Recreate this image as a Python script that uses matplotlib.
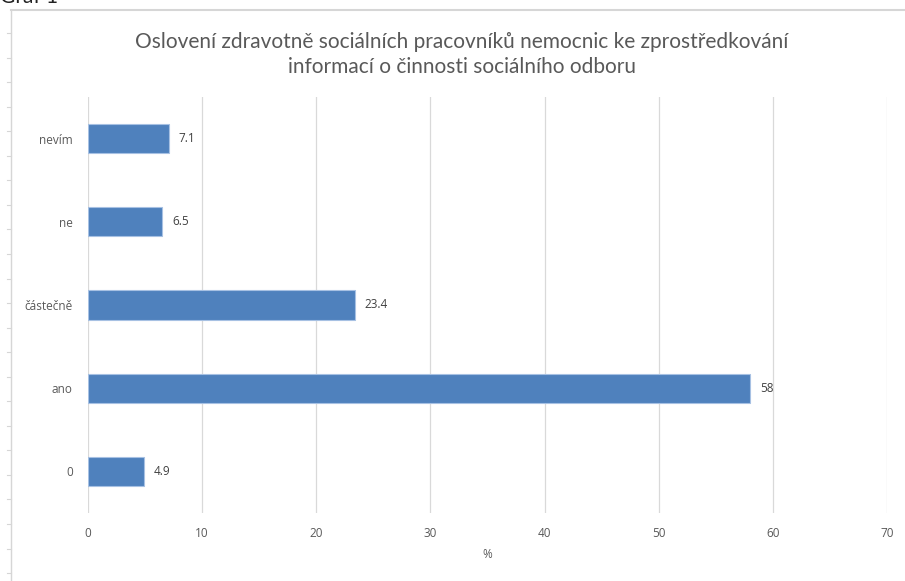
import matplotlib
matplotlib.use("Agg")
import matplotlib.pyplot as plt
from matplotlib.lines import Line2D
import numpy as np

categories = ["0", "ano", "částečně", "ne", "nevím"]
values = [4.9, 58, 23.4, 6.5, 7.1]
value_labels = ["4.9", "58", "23.4", "6.5", "7.1"]
x_ticks = [0, 10, 20, 30, 40, 50, 60, 70]
title = "Oslovení zdravotně sociálních pracovníků nemocnic ke zprostředkování\ninformací o činnosti sociálního odboru"

W, H = 905, 581
fig = plt.figure(figsize=(W / 100, H / 100), dpi=100)
fig.patch.set_facecolor("white")

# page decorations: frame lines and left ruler ticks
frame_col = "#d6d6d6"
fig.add_artist(Line2D([11 / W, 1], [1 - 10 / H, 1 - 10 / H], color=frame_col, lw=1.5, transform=fig.transFigure))
fig.add_artist(Line2D([11 / W, 11 / W], [0, 1 - 10 / H], color=frame_col, lw=1.0, transform=fig.transFigure))
for yp in np.arange(33, H, 24.55):
    fig.add_artist(Line2D([7 / W, 11 / W], [1 - yp / H, 1 - yp / H], color=frame_col, lw=0.8, transform=fig.transFigure))
fig.text(0.0, 1 - (-3) / H, "Graf 1", fontsize=15, family=["Lato", "DejaVu Sans"], color="#222222", va="center", ha="left")

ax = fig.add_axes([88 / W, 1 - 513 / H, (887 - 88) / W, (513 - 97) / H])
y = np.arange(len(categories))
ax.barh(y, values, height=0.35, color="#4f81bd", edgecolor="#a7c1e3", linewidth=0.8, zorder=3)
for yi, v, lab in zip(y, values, value_labels):
    ax.annotate(lab, (v, yi), xytext=(7.0, 0), textcoords="offset points", va="center", ha="left",
                fontsize=8.5, color="#404040", family=["Open Sans", "DejaVu Sans"])

ax.set_xlim(0, 70)
ax.set_ylim(-0.5, len(categories) - 0.5)
ax.set_xticks(x_ticks)
ax.set_yticks(y)
ax.set_yticklabels(categories)
ax.xaxis.grid(True, color="#d9d9d9", lw=0.9, zorder=0)
ax.set_axisbelow(True)
for s in ax.spines.values():
    s.set_visible(False)
ax.tick_params(axis="both", length=0, labelsize=8.5, labelcolor="#595959")
ax.tick_params(axis="y", pad=11)
ax.tick_params(axis="x", pad=10)
for lab in ax.get_xticklabels() + ax.get_yticklabels():
    lab.set_family(["Open Sans", "DejaVu Sans"])
ax.set_xlabel("%", fontsize=8.5, color="#595959", family=["Open Sans", "DejaVu Sans"], labelpad=6)

fig.text(462 / W, 1 - 54.5 / H, title, ha="center", va="center", fontsize=15,
         color="#595959", family=["Lato", "DejaVu Sans"], linespacing=1.3)

fig.savefig("out.png", dpi=100, facecolor="white")
